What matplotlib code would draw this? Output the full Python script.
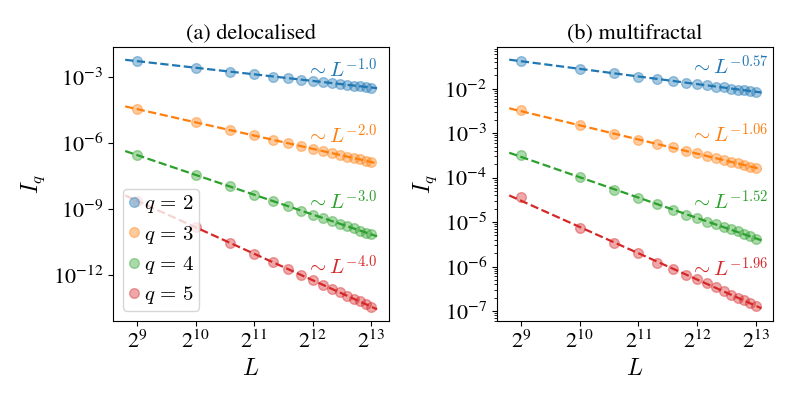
import numpy as np
import matplotlib
matplotlib.use("Agg")
import matplotlib.pyplot as plt
import matplotlib.ticker as mticker

plt.rcParams['font.family'] = ['STIXGeneral', 'DejaVu Sans']
plt.rcParams['mathtext.fontset'] = 'cm'

# system sizes
L = [512, 1024, 1536, 2048, 2560, 3072, 3584, 4096,
     4608, 5120, 5632, 6144, 6656, 7168, 7680, 8192]
L_ticks = [2**9, 2**10, 2**11, 2**12, 2**13]
qs = [2, 3, 4, 5]
colors = ['tab:blue', 'tab:orange', 'tab:green', 'tab:red']

# log10(I_q), panel (a) delocalised
deloc_q2 = [-2.26, -2.56, -2.74, -2.86, -2.96, -3.04, -3.11, -3.16,
            -3.21, -3.26, -3.30, -3.34, -3.37, -3.41, -3.44, -3.46]
deloc_q3 = [-4.44, -5.04, -5.39, -5.64, -5.84, -6.00, -6.13, -6.25,
            -6.35, -6.44, -6.52, -6.60, -6.67, -6.73, -6.79, -6.85]
deloc_q4 = [-6.53, -7.43, -7.96, -8.34, -8.63, -8.86, -9.07, -9.24,
            -9.39, -9.53, -9.65, -9.77, -9.87, -9.97, -10.06, -10.14]
deloc_q5 = [-8.61, -9.81, -10.52, -11.02, -11.41, -11.72, -11.99, -12.22,
            -12.43, -12.61, -12.77, -12.93, -13.07, -13.19, -13.31, -13.43]

# log10(I_q), panel (b) multifractal
multi_q2 = [-1.37, -1.55, -1.65, -1.73, -1.78, -1.82, -1.86, -1.89,
            -1.92, -1.95, -1.97, -2.00, -2.02, -2.03, -2.05, -2.07]
multi_q3 = [-2.47, -2.82, -3.01, -3.15, -3.25, -3.32, -3.40, -3.45,
            -3.51, -3.56, -3.60, -3.64, -3.68, -3.72, -3.75, -3.78]
multi_q4 = [-3.49, -3.99, -4.28, -4.45, -4.60, -4.73, -4.83, -4.91,
            -4.99, -5.05, -5.11, -5.16, -5.21, -5.27, -5.32, -5.37]
multi_q5 = [-4.44, -5.13, -5.47, -5.70, -5.91, -6.06, -6.20, -6.29,
            -6.38, -6.47, -6.55, -6.63, -6.70, -6.76, -6.83, -6.89]

# fitted power laws: endpoints (L, log10 I)
fit_L = [2**8.8, 2**13.1]
deloc_fit = [[-2.20, -3.49], [-4.32, -6.91], [-6.35, -10.23], [-8.37, -13.55]]
multi_fit = [[-1.346, -2.084], [-2.44, -3.81], [-3.44, -5.41], [-4.40, -6.94]]
deloc_exp = ['-1.0', '-2.0', '-3.0', '-4.0']
multi_exp = ['-0.57', '-1.06', '-1.52', '-1.96']
# exponent labels: L position and log10 I of baseline
lab_x = 3770
deloc_lab_y = [-3.0, -6.0, -9.0, -12.0]
multi_lab_y = [-1.685, -3.21, -4.72, -6.225]

deloc = [deloc_q2, deloc_q3, deloc_q4, deloc_q5]
multi = [multi_q2, multi_q3, multi_q4, multi_q5]

fig = plt.figure(figsize=(8, 4), dpi=100)
ax1 = fig.add_axes([0.141, 0.1975, 0.345, 0.684])
ax2 = fig.add_axes([0.621, 0.1975, 0.3455, 0.684])

def draw(ax, data, fits, exps, lab_y):
    for q, c, vals, fit, ex, ly in zip(qs, colors, data, fits, exps, lab_y):
        ax.plot(L, 10**np.array(vals), 'o', color=c, alpha=0.4, ms=7,
                label=r'$q\,=\,%d$' % q)
        ax.plot(fit_L, 10**np.array(fit), '--', color=c, lw=1.6)
        ax.text(lab_x, 10**ly, r'$\sim L^{%s}$' % ex, color=c, fontsize=15,
                ha='left', va='baseline')
    ax.set_xscale('log', base=2)
    ax.set_yscale('log')
    ax.set_xticks(L_ticks)
    ax.xaxis.set_minor_locator(mticker.NullLocator())
    ax.set_xlim(2**8.588, 2**13.30)
    ax.set_xlabel(r'$L$', fontsize=17)
    ax.set_ylabel(r'$I_q$', fontsize=17)
    ax.tick_params(labelsize=16)

draw(ax1, deloc, deloc_fit, deloc_exp, deloc_lab_y)
draw(ax2, multi, multi_fit, multi_exp, multi_lab_y)

ax1.set_ylim(10**-14.08, 10**-1.636)
ax1.set_yticks([1e-3, 1e-6, 1e-9, 1e-12])
ax1.yaxis.set_minor_locator(mticker.NullLocator())
ax2.set_ylim(10**-7.225, 10**-1.07)

ax1.set_title('(a) delocalised', fontsize=16)
ax2.set_title('(b) multifractal', fontsize=16)

ax1.legend(loc='lower left', fontsize=15, handlelength=0.6, handletextpad=0.2,
           borderpad=0.2, labelspacing=0.4)

fig.savefig('out.png', dpi=100)
